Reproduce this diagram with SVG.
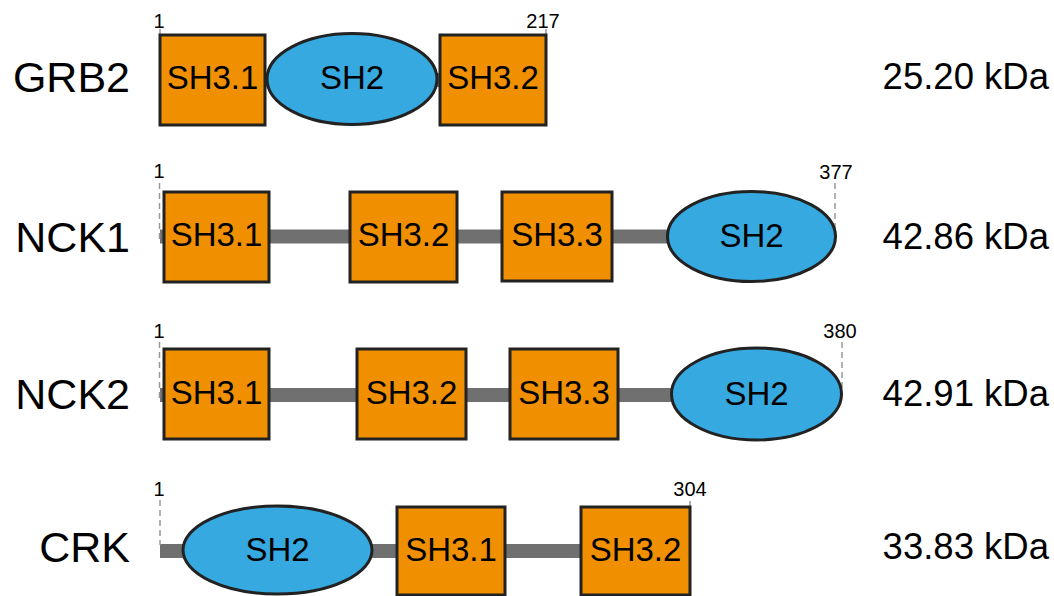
<svg xmlns="http://www.w3.org/2000/svg" width="1054" height="596" viewBox="0 0 1054 596">
<style>
.bg{fill:#fff}
.lnk{stroke:#707070;stroke-width:14;fill:none}
.sh3{fill:#F09000;stroke:#222;stroke-width:3}
.sh2{fill:#36A9E1;stroke:#222;stroke-width:3}
.dt{font-family:"Liberation Sans",Arial,sans-serif;font-size:33px;fill:#000;text-anchor:middle}
.nm{font-family:"Liberation Sans",Arial,sans-serif;font-size:43px;fill:#000;text-anchor:end}
.kd{font-family:"Liberation Sans",Arial,sans-serif;font-size:36.5px;fill:#000;text-anchor:end}
.pos{font-family:"Liberation Sans",Arial,sans-serif;font-size:20px;fill:#000;text-anchor:middle}
.tick{stroke:#999;stroke-width:1.5;fill:none}
.dash{stroke:#999;stroke-width:1.5;fill:none;stroke-dasharray:6 4}
</style>
<rect class="bg" x="0" y="0" width="1054" height="596"/>
<g id="connectors">
  <line class="lnk" x1="160" y1="80" x2="546" y2="80"/>
  <line class="lnk" x1="160" y1="236.5" x2="700" y2="236.5"/>
  <line class="lnk" x1="160" y1="395" x2="700" y2="395"/>
  <line class="lnk" x1="160" y1="551" x2="581" y2="551"/>
  <line class="tick" x1="160" y1="29" x2="160" y2="35"/>
  <line class="tick" x1="546" y1="29" x2="546" y2="35"/>
  <line class="dash" x1="159.5" y1="183" x2="159.5" y2="242"/>
  <line class="dash" x1="835" y1="183" x2="835" y2="237"/>
  <line class="dash" x1="159.5" y1="342" x2="159.5" y2="400"/>
  <line class="dash" x1="842" y1="342" x2="842" y2="394"/>
  <line class="dash" x1="160" y1="500" x2="160" y2="545"/>
  <line class="tick" x1="690" y1="501" x2="690" y2="507"/>
</g>
<g id="GRB2">
  <text class="nm" x="130" y="92">GRB2</text>
  <text class="pos" x="159" y="28">1</text>
  <text class="pos" x="543" y="28">217</text>
  <g id="GRB2-SH3.1"><rect class="sh3" x="160" y="35" width="105" height="90"/><text class="dt" x="212.5" y="89">SH3.1</text></g>
  <g id="GRB2-SH2"><ellipse class="sh2" cx="352" cy="79" rx="85" ry="45.5"/><text class="dt" x="352" y="89">SH2</text></g>
  <g id="GRB2-SH3.2"><rect class="sh3" x="440" y="35" width="106" height="90"/><text class="dt" x="493" y="89">SH3.2</text></g>
  <text class="kd" x="1049" y="89">25.20 kDa</text>
</g>
<g id="NCK1">
  <text class="nm" x="130" y="252">NCK1</text>
  <text class="pos" x="159" y="178">1</text>
  <text class="pos" x="836" y="179">377</text>
  <g id="NCK1-SH3.1"><rect class="sh3" x="164" y="192" width="105" height="90"/><text class="dt" x="216.5" y="246">SH3.1</text></g>
  <g id="NCK1-SH3.2"><rect class="sh3" x="350" y="192" width="107" height="90"/><text class="dt" x="403.5" y="246">SH3.2</text></g>
  <g id="NCK1-SH3.3"><rect class="sh3" x="502" y="192" width="110" height="89"/><text class="dt" x="557" y="246">SH3.3</text></g>
  <g id="NCK1-SH2"><ellipse class="sh2" cx="751.5" cy="236.5" rx="84" ry="45"/><text class="dt" x="751.5" y="247">SH2</text></g>
  <text class="kd" x="1049" y="249">42.86 kDa</text>
</g>
<g id="NCK2">
  <text class="nm" x="130" y="409">NCK2</text>
  <text class="pos" x="159" y="338">1</text>
  <text class="pos" x="840" y="338">380</text>
  <g id="NCK2-SH3.1"><rect class="sh3" x="164" y="349" width="105" height="90"/><text class="dt" x="216.5" y="404">SH3.1</text></g>
  <g id="NCK2-SH3.2"><rect class="sh3" x="357" y="349" width="109" height="90"/><text class="dt" x="411.5" y="404">SH3.2</text></g>
  <g id="NCK2-SH3.3"><rect class="sh3" x="510" y="349" width="108" height="90"/><text class="dt" x="564" y="404">SH3.3</text></g>
  <g id="NCK2-SH2"><ellipse class="sh2" cx="756.5" cy="394" rx="85" ry="46"/><text class="dt" x="756.5" y="405">SH2</text></g>
  <text class="kd" x="1049" y="406">42.91 kDa</text>
</g>
<g id="CRK">
  <text class="nm" x="130" y="562">CRK</text>
  <text class="pos" x="159" y="496">1</text>
  <text class="pos" x="690" y="496">304</text>
  <g id="CRK-SH2"><ellipse class="sh2" cx="277.5" cy="550" rx="94.5" ry="44"/><text class="dt" x="277.5" y="561">SH2</text></g>
  <g id="CRK-SH3.1"><rect class="sh3" x="397" y="507" width="108" height="88"/><text class="dt" x="451" y="561">SH3.1</text></g>
  <g id="CRK-SH3.2"><rect class="sh3" x="581" y="507" width="109" height="88"/><text class="dt" x="635.5" y="561">SH3.2</text></g>
  <text class="kd" x="1049" y="559">33.83 kDa</text>
</g>
</svg>
